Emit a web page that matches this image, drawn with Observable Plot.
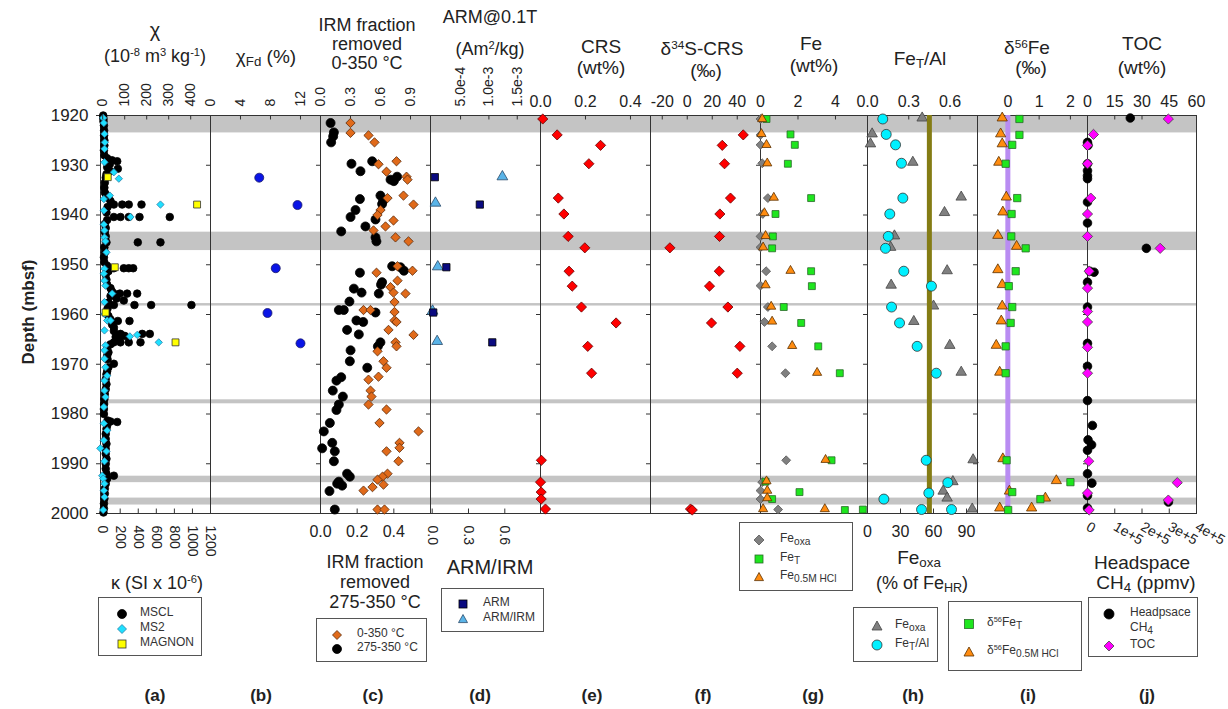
<!DOCTYPE html>
<html><head><meta charset="utf-8">
<script src="https://cdn.jsdelivr.net/npm/d3@7"></script>
<script src="https://cdn.jsdelivr.net/npm/@observablehq/plot@0.6"></script>
<style>
body{margin:0;background:#fff;font-family:"Liberation Sans",Arial,Helvetica,sans-serif;}
#fig{position:relative;width:1228px;height:709px;overflow:hidden;background:#fff;}
#fig > svg{position:absolute;left:0;top:0;}
.t{position:absolute;white-space:nowrap;color:#222;transform:translate(-50%,-50%);text-align:center;line-height:1;}
.t sup,.lg sup{font-size:62%;position:relative;top:-0.55em;vertical-align:baseline;}
.t sub{font-size:70%;position:relative;top:0.2em;vertical-align:baseline;}
.lg sub{font-size:85%;position:relative;top:0.3em;vertical-align:baseline;}
.box{position:absolute;border:1px solid #555;background:#fff;box-sizing:border-box;}
.lg{position:absolute;white-space:nowrap;color:#333;font-size:12px;line-height:1;transform:translateY(-50%);}
.sym{position:absolute;}
</style></head>
<body><div id="fig"></div>
<script>
// ---------------- data ----------------
const depthDomain = [1920, 2000];
const depthTicks = [1920, 1930, 1940, 1950, 1960, 1970, 1980, 1990, 2000];
const grayBands = [[1920, 1923.5], [1943.45, 1947.15], [1957.8, 1958.3], [1977.15, 1977.95], [1992.5, 1993.8], [1996.9, 1998.3]];

// (a) susceptibility  [depth, value]
const chiTicks = [0, 100, 200, 300, 400];
const kappaTicks = [0, 200, 400, 600, 800, 1000, 1200];
const msclKappa = [[1920.0,12],[1920.3,12],[1920.7,15],[1921.2,15],[1922.0,20],[1923.0,22],[1924.0,22],[1925.0,25],[1926.0,25],[1927.0,20],[1928.0,25],
 [1928.6,56],[1929.0,110],[1929.2,167],[1929.8,85],[1930.4,56],[1930.7,174],[1931.2,93],[1931.8,48],[1932.5,40],[1933.5,30],[1934.5,25],[1935.5,30],[1936.0,48],
 [1936.6,70],[1937.2,93],[1937.9,130],[1937.9,222],[1937.9,295],[1937.9,436],[1938.4,60],[1939.5,48],[1940.4,130],[1940.4,203],[1940.4,295],[1940.4,414],[1940.4,749],[1941.0,56],
 [1941.8,30],[1942.6,40],[1943.4,30],[1944.3,40],[1945.5,48],[1945.5,395],[1945.5,646],[1946.5,25],[1947.5,30],[1948.5,20],[1949.5,25],
 [1950.2,56],[1950.7,130],[1950.7,240],[1950.7,295],[1950.7,344],[1951.3,70],[1952.0,40],[1953.0,48],[1954.0,56],[1954.7,93],
 [1955.4,110],[1955.8,130],[1955.8,196],[1955.8,277],[1955.8,388],[1956.3,93],[1956.8,160],[1957.2,240],[1957.6,70],
 [1958.1,130],[1958.1,358],[1958.1,543],[1958.1,989],[1958.8,60],[1959.6,48],[1960.3,70],[1961.0,93],[1961.3,174],[1961.3,303],[1962.0,110],[1962.6,130],
 [1963.3,130],[1963.9,203],[1963.9,444],[1963.9,528],[1964.3,250],[1964.5,150],[1965.0,180],[1965.6,130],[1965.6,203],[1965.6,295],[1965.6,425],[1966.0,93],
 [1966.8,56],[1967.6,70],[1968.3,56],[1969.0,60],[1969.9,130],[1970.6,70],[1971.4,56],[1972.0,48],[1973.0,40],[1974.0,48],[1975.0,40],[1976.0,30],[1977.0,25],[1978.0,22],[1979.0,20],[1980.0,20],
 [1981.3,60],[1981.5,93],[1981.6,167],[1982.3,56],[1983.0,48],[1984.0,40],[1985.0,40],[1986.0,48],[1987.0,40],[1988.0,40],[1989.0,48],[1990.0,40],[1991.0,40],[1992.0,48],[1992.4,130],
 [1993.0,56],[1994.0,40],[1995.0,30],[1996.0,30],[1997.0,25],[1998.0,20],[1999.0,20],[1999.8,15]];
const ms2Kappa = [[1920.5,12],[1921.5,19],[1923.7,26],[1925.4,30],[1926.7,26],[1929.4,26],[1931.4,130],[1932.7,185],[1936.1,85],[1936.8,19],[1937.9,646],[1939.1,19],[1940.4,314],
 [1941.9,19],[1943.1,26],[1944.5,26],[1945.3,37],[1947.5,48],[1950.8,26],[1951.8,19],[1953.2,26],[1954.2,37],[1955.8,112],[1957.5,26],[1959.9,26],[1961.2,56],[1961.2,93],
 [1963.2,26],[1964.4,307],[1964.1,388],[1965.6,627],[1966.2,37],[1967.2,26],[1968.9,26],[1970.6,37],[1972.3,56],[1973.3,26],[1975.3,26],[1976.6,37],[1978.6,19],[1981.9,19],
 [1983.3,56],[1985.3,19],[1986.9,-20],[1987.5,48],[1989.5,26],[1992.4,1],[1993.0,12],[1994.0,26],[1995.4,19],[1996.7,26],[1999.3,12]];
const magnonChi = [[1932.4,23],[1937.9,429],[1950.5,55],[1959.6,13],[1965.6,331]];

// (b)
const chiFdTicks = [0, 4, 8, 12];
const chiFd = [[1932.5,6.5],[1938.0,11.6],[1950.7,8.7],[1959.7,7.6],[1965.8,12.0]];

// (c)
const irmTopTicks = [0, 0.3, 0.6, 0.9];
const irmBotTicks = [0, 0.2, 0.4];
const irm0to350 = [[1921.5,0.30],[1923.5,0.30],[1924.0,0.48],[1925.4,0.54],[1929.2,0.76],[1929.8,0.58],[1931.3,0.66],[1932.3,0.86],[1932.9,0.87],[1936.1,0.83],[1936.6,0.67],[1937.9,0.93],
 [1939.0,0.60],[1940.0,0.57],[1941.1,0.73],[1942.3,0.65],[1943.1,0.53],[1944.5,0.75],[1945.3,0.88],[1950.3,0.77],[1951.2,0.92],[1951.6,0.56],[1953.2,0.77],[1954.5,0.70],[1955.6,0.73],
 [1955.8,0.85],[1957.5,0.74],[1959.1,0.43],[1959.1,0.50],[1959.5,0.74],[1961.2,0.74],[1961.5,0.76],[1963.1,0.68],[1964.1,0.93],[1965.6,0.75],[1966.4,0.76],[1967.4,0.57],[1969.4,0.63],
 [1970.7,0.66],[1972.5,0.58],[1973.1,0.48],[1975.3,0.50],[1976.5,0.51],[1978.1,0.48],[1979.1,0.66],[1981.8,0.59],[1983.5,0.98],[1985.8,0.79],[1986.8,0.79],[1987.5,0.66],[1989.5,0.78],
 [1992.0,0.67],[1992.6,0.62],[1993.2,0.57],[1994.2,0.63],[1994.7,0.52],[1995.4,0.43],[1999.2,0.57],[1999.2,0.64]];
const irm275to350 = [[1921.5,0.055],[1923.4,0.073],[1924.2,0.069],[1925.4,0.058],[1929.2,0.282],[1929.7,0.169],[1931.2,0.218],[1932.3,0.418],[1932.9,0.382],[1933.2,0.40],
 [1936.1,0.327],[1936.8,0.215],[1937.1,0.342],[1937.8,0.336],[1939.0,0.191],[1940.4,0.164],[1940.9,0.300],[1942.3,0.245],[1943.3,0.113],[1944.5,0.300],[1945.3,0.305],
 [1950.3,0.391],[1950.5,0.436],[1951.2,0.455],[1951.6,0.215],[1953.5,0.336],[1954.0,0.330],[1954.8,0.182],[1955.6,0.224],[1955.8,0.318],[1957.4,0.158],[1959.1,0.100],
 [1959.1,0.127],[1959.6,0.300],[1961.2,0.196],[1961.5,0.233],[1963.1,0.145],[1964.0,0.209],[1965.6,0.327],[1966.4,0.313],[1967.2,0.164],[1969.4,0.160],[1970.7,0.255],
 [1972.6,0.113],[1973.3,0.087],[1975.3,0.067],[1976.5,0.122],[1978.1,0.100],[1979.2,0.087],[1981.8,0.051],[1983.5,0.018],[1985.8,0.064],[1986.9,0.009],[1987.5,0.078],
 [1989.5,0.073],[1992.0,0.145],[1992.6,0.160],[1993.6,0.100],[1994.0,0.091],[1994.4,0.118],[1995.5,0.049],[1999.2,0.078]];

// (d)
const armTicks = [5e-4, 1e-3, 1.5e-3];
const armIrmTicks = [0, 0.3, 0.6];
const arm = [[1932.4,4.6e-5],[1937.9,8.4e-4],[1950.5,2.5e-4],[1959.6,1.8e-5],[1965.6,1.06e-3]];
const armIrm = [[1932.3,0.58],[1937.6,0.027],[1950.4,0.046],[1959.3,0.003],[1965.4,0.041]];

// (e)
const crsTicks = [0, 0.2, 0.4];
const crs = [[1920.7,0.010],[1923.9,0.074],[1926.0,0.267],[1929.7,0.215],[1936.6,0.079],[1939.8,0.104],[1944.3,0.123],[1946.6,0.197],[1951.3,0.127],[1954.3,0.141],
 [1958.5,0.182],[1961.7,0.336],[1966.4,0.210],[1971.8,0.227],[1989.3,0.004],[1993.7,0.0],[1995.7,0.003],[1997.1,0.003],[1999.1,0.022]];

// (f)
const d34STicks = [-20, 0, 20, 40];
const d34S = [[1923.9,44.8],[1926.0,28.0],[1929.7,29.8],[1936.6,34.6],[1939.8,26.1],[1944.3,25.8],[1946.6,-13.9],[1951.3,25.6],[1954.3,17.8],[1958.5,32.5],
 [1961.7,19.4],[1966.4,42.1],[1971.8,40.0],[1999.1,2.6],[1999.3,4.0]];

// (g)
const feTicks = [0, 2, 4];
const feOxa = [[1920.7,0.0],[1923.9,0.0],[1925.9,0.0],[1929.6,0.09],[1936.6,0.39],[1939.8,0.12],[1944.3,0.0],[1946.5,0.0],[1951.3,0.30],[1954.2,0.0],[1958.5,0.39],
 [1961.5,0.21],[1966.4,0.62],[1971.8,1.33],[1989.3,1.37],[1993.7,0.09],[1995.4,0.0],[1997.1,0.0],[1999.2,0.94]];
const feT = [[1920.7,0.32],[1923.8,1.60],[1925.9,1.83],[1929.7,1.46],[1936.6,2.70],[1939.8,0.80],[1944.3,0.66],[1946.7,0.62],[1951.3,2.70],[1954.3,2.74],[1958.5,1.24],
 [1961.7,2.17],[1966.4,3.08],[1971.8,4.23],[1989.3,3.79],[1993.6,0.27],[1995.7,2.08],[1997.1,0.62],[1999.3,4.50],[1999.2,5.46]];
const feHCl = [[1920.7,0.09],[1923.7,0.05],[1925.9,0.32],[1929.6,0.36],[1936.5,0.71],[1939.6,0.21],[1944.2,0.27],[1946.5,0.14],[1951.2,1.60],[1954.1,0.27],[1958.4,0.57],
 [1961.4,0.62],[1966.3,1.69],[1971.7,3.02],[1989.2,3.47],[1993.5,0.32],[1995.4,0.36],[1996.9,0.36],[1999.1,0.14],[1999.1,3.43]];

// (h)
const feTAlTicks = [0, 0.3, 0.6];
const feOxaPctTicks = [0, 30, 60, 90];
const shaleFeTAl = 0.45;
const feTAl = [[1920.7,0.111],[1923.8,0.136],[1925.9,0.204],[1929.6,0.247],[1936.6,0.257],[1939.8,0.162],[1944.3,0.151],[1946.7,0.131],[1951.3,0.264],[1954.3,0.465],
 [1958.5,0.175],[1961.7,0.233],[1966.4,0.361],[1971.8,0.500],[1989.3,0.427],[1993.8,0.584],[1995.9,0.446],[1997.1,0.119],[1999.2,0.393],[1999.2,0.611]];
const feOxaPct = [[1920.5,49.7],[1923.7,4.2],[1925.7,2.7],[1929.4,41.2],[1936.4,85.2],[1939.5,70.0],[1944.2,24.5],[1946.5,21.0],[1951.2,72.4],[1954.1,21.5],[1958.3,60.0],
 [1961.4,42.1],[1966.2,74.8],[1971.6,85.2],[1989.2,96.0],[1993.6,77.6],[1995.5,68.8],[1996.9,72.4],[1999.1,95.2]];

// (i)
const d56FeTicks = [0, 1, 2];
const d56FeRef = 0;
const d56FeT = [[1920.7,0.37],[1923.9,0.37],[1925.9,0.14],[1929.7,-0.07],[1936.6,0.30],[1939.8,0.12],[1944.3,0.11],[1946.7,0.57],[1951.3,0.25],[1954.3,0.03],
 [1958.5,0.14],[1961.7,0.09],[1966.4,-0.07],[1971.8,-0.07],[1989.3,-0.04],[1993.7,2.00],[1995.7,0.14],[1997.1,1.04],[1999.3,0.01]];
const d56FeHCl = [[1920.5,-0.18],[1923.7,-0.23],[1925.7,-0.18],[1929.4,-0.29],[1936.4,-0.05],[1939.4,-0.16],[1944.1,-0.32],[1946.3,0.28],[1951.0,-0.32],[1954.0,-0.18],
 [1958.3,-0.18],[1961.3,-0.21],[1966.2,-0.37],[1971.6,-0.26],[1989.0,-0.16],[1993.4,1.55],[1995.5,0.05],[1996.9,1.20],[1998.9,-0.26],[1998.9,0.76]];

// (j)
const tocTicks = [0, 15, 30, 45, 60];
const ch4Ticks = [0, 1e5, 2e5, 3e5, 4e5];
const toc = [[1920.7,44.5],[1923.8,3.3],[1926.0,0],[1929.7,0],[1936.6,1.8],[1939.8,0],[1944.3,0],[1946.7,40.0],[1951.3,0.9],[1954.7,0],[1959.4,0],[1961.5,0],
 [1966.6,0],[1971.8,0],[1989.5,0.7],[1993.8,49.4],[1995.9,0],[1997.3,44.5],[1999.3,0.9]];
const ch4 = [[1920.5,1.57e5],[1925.4,0],[1926.0,2000],[1929.7,0],[1931.1,0],[1932.1,0],[1932.7,0],[1937.4,0],[1941.6,0],[1946.7,2.16e5],[1951.3,8000],[1951.5,2.4e4],
 [1953.5,0],[1958.5,0],[1965.8,0],[1970.4,0],[1977.3,0],[1982.3,1.8e4],[1985.2,2000],[1986.2,1.5e4],[1987.3,0],[1992.0,0],[1993.9,1.6e4],[1996.4,0],[1997.7,2.97e5],[1998.9,0]];

// ---------------- drawing ----------------
const FONT = '"Liberation Sans", Arial, Helvetica, sans-serif';
const W = 1228, H = 709, TOP = 115, BOT = 513;
const fig = document.getElementById("fig");
const INK = "#333";
const f1 = d3.format(".1f");
const fInt = d => String(d);

function layer(x0, x1, domain, marks, withY) {
  const y = {domain: depthDomain, reverse: true};
  if (!withY) y.axis = null;
  fig.appendChild(Plot.plot({
    width: W, height: H,
    marginLeft: x0, marginRight: W - x1, marginTop: TOP, marginBottom: H - BOT,
    x: {domain}, y,
    style: {background: "transparent", overflow: "visible", fontFamily: FONT, color: "#222"},
    marks
  }));
}
function axisTop(ticks, fmt, rot) {
  const o = {anchor: "top", tickSize: 0, tickPadding: 9, tickFormat: fmt, label: null, fontSize: 16};
  if (rot) Object.assign(o, {tickRotate: rot, textAnchor: "start", lineAnchor: "middle", tickPadding: 9, fontSize: 14});
  return [Plot.ruleX(ticks, {y1: 1920, y2: 1920.9, stroke: INK}), Plot.axisX(ticks, o)];
}
function axisBottom(ticks, fmt, rot, extra) {
  const o = {anchor: "bottom", tickSize: 0, tickPadding: 12, tickFormat: fmt, label: null, fontSize: 16};
  if (rot) Object.assign(o, {tickRotate: rot, textAnchor: "start", lineAnchor: "middle", fontSize: 14});
  if (extra) Object.assign(o, extra);
  return [Plot.ruleX(ticks, {y1: 1999.1, y2: 2000, stroke: INK}), Plot.axisX(ticks, o)];
}
function depthAxis(main) {
  return Plot.axisY(depthTicks, main
    ? {anchor: "left", tickSize: 4, tickPadding: 8, fontSize: 17, tickFormat: fInt, label: null, stroke: INK}
    : {anchor: "left", tickSize: 4, tickFormat: () => "", label: null, stroke: INK});
}
const frame = () => Plot.frame({stroke: INK, strokeWidth: 1});
const pt = (data, symbol, r, fill, stroke = "#333") =>
  Plot.dot(data, {x: d => d[1], y: d => d[0], symbol, r, fill, stroke, strokeWidth: 0.8});

// gray bands across all panels
fig.appendChild(Plot.plot({
  width: W, height: H, marginLeft: 100, marginRight: W - 1196, marginTop: TOP, marginBottom: H - BOT,
  y: {domain: depthDomain, reverse: true, axis: null},
  style: {background: "transparent", overflow: "visible"},
  marks: [Plot.rect(grayBands, {y1: d => d[0], y2: d => d[1], fill: "#c4c4c4"})]
}));

// (a)
layer(100, 210, [-18, 1200], [frame(), depthAxis(true), ...axisBottom(kappaTicks, fInt, 90),
  pt(msclKappa, "circle", 3.8, "#000", "#000"), pt(ms2Kappa, "diamond2", 3.3, "#1ee0ff", "#2a7fa8")], true);
layer(100, 210, [-10, 490], [...axisTop(chiTicks, fInt, -90), pt(magnonChi, "square", 3.9, "#ffff00", "#333")]);
// (b)
layer(210, 320, [0, 14.667], [frame(), depthAxis(false), ...axisTop(chiFdTicks, fInt, -90),
  pt(chiFd, "circle", 4.5, "#0a14e6", "#1a1a6a")], true);
// (c)
layer(320, 430, [0, 0.6], [frame(), depthAxis(false), ...axisBottom(irmBotTicks, f1),
  pt(irm275to350, "circle", 4.5, "#000", "#000")], true);
layer(320, 430, [0, 1.1], [...axisTop(irmTopTicks, f1, -90), pt(irm0to350, "diamond2", 4.2, "#e06a1a", "#5a2a0a")]);
// (d)
layer(430, 540, [-0.014, 0.895], [frame(), depthAxis(false), ...axisBottom(armIrmTicks, f1, 90),
  pt(armIrm, "triangle", 4.0, "#5ab4e8", "#2a4a6a")], true);
layer(430, 540, [-0.00003, 0.00191], [...axisTop(armTicks, d => d.toExponential(1), -90), pt(arm, "square", 4.1, "#0a0a80", "#000")]);
// (e)
layer(540, 650, [0, 0.489], [frame(), depthAxis(false), ...axisTop(crsTicks, f1),
  pt(crs, "diamond2", 4.6, "#ff0000", "#600")], true);
// (f)
layer(650, 760, [-29.4, 58.6], [frame(), depthAxis(false), ...axisTop(d34STicks, fInt),
  pt(d34S, "diamond2", 4.6, "#ff0000", "#600")], true);
// (g)
layer(760, 867, [0, 5.707], [frame(), depthAxis(false), ...axisTop(feTicks, fInt),
  pt(feOxa, "diamond2", 4.0, "#808080", "#555"), pt(feT, "square", 3.9, "#1ee61e", "#2a6a2a"), pt(feHCl, "triangle", 3.4, "#ff8c10", "#5a3000")], true);
// (h)
layer(867, 977, [0, 100], [frame(), depthAxis(false), ...axisBottom(feOxaPctTicks, fInt),
  pt(feOxaPct, "triangle", 3.9, "#808080", "#444")], true);
layer(867, 977, [0, 0.8], [...axisTop(feTAlTicks, f1), Plot.ruleX([shaleFeTAl], {stroke: "#847c14", strokeWidth: 5}),
  pt(feTAl, "circle", 5.0, "#00f0ff", "#333")]);
// (i)
layer(977, 1087, [-0.97, 2.546], [frame(), depthAxis(false), ...axisTop(d56FeTicks, fInt),
  Plot.ruleX([d56FeRef], {stroke: "#b98cf2", strokeWidth: 5}),
  pt(d56FeHCl, "triangle", 3.8, "#ff8c10", "#5a3000"), pt(d56FeT, "square", 4.1, "#1ee61e", "#2a6a2a")], true);
// (j)
layer(1087, 1196, [0, 4e5], [frame(), depthAxis(false),
  ...axisBottom(ch4Ticks, d => d === 0 ? "0" : (d / 1e5) + "e+5", 30),
  pt(ch4, "circle", 4.3, "#000", "#000")], true);
layer(1087, 1196, [0, 60], [...axisTop(tocTicks, fInt), pt(toc, "diamond2", 4.6, "#ff00ff", "#444")]);

// ---------------- text ----------------
function txt(html, x, y, size, extra) {
  const d = document.createElement("div");
  d.className = "t"; d.style.left = x + "px"; d.style.top = y + "px"; d.style.fontSize = size + "px";
  d.innerHTML = html; if (extra) d.style.cssText += extra; fig.appendChild(d);
}
txt("χ", 155, 30, 20);
txt("(10<sup>-8</sup> m<sup>3</sup> kg<sup>-1</sup>)", 155, 56, 18);
txt("χ<sub>Fd</sub> (%)", 266, 56, 19);
txt("IRM fraction", 367, 25, 18); txt("removed", 367, 44, 18); txt("0-350 °C", 367, 63, 18);
txt("ARM@0.1T", 490, 17, 18); txt("(Am<sup>2</sup>/kg)", 490, 49, 18);
txt("CRS", 601, 46, 19); txt("(wt%)", 601, 67, 19);
txt("δ<sup>34</sup>S-CRS", 702, 48, 19); txt("(‰)", 706, 70, 19);
txt("Fe", 811, 43, 19); txt("(wt%)", 814, 65, 19);
txt("Fe<sub>T</sub>/Al", 920, 58, 19);
txt("δ<sup>56</sup>Fe", 1027, 47, 19); txt("(‰)", 1031, 67, 19);
txt("TOC", 1142, 43, 19); txt("(wt%)", 1142, 67, 19);

txt("κ (SI x 10<sup>-6</sup>)", 157, 583, 18);
txt("IRM fraction", 375, 562, 18); txt("removed", 375, 582, 18); txt("275-350 °C", 375, 602, 18);
txt("ARM/IRM", 490, 567, 20);
txt("Fe<sub>oxa</sub>", 919, 557, 19); txt("(% of Fe<sub>HR</sub>)", 922, 583, 18);
txt("Headspace", 1142, 562, 19); txt("CH<sub>4</sub> (ppmv)", 1146, 582, 19);

txt("Depth (mbsf)", 28, 312, 17, "font-weight:bold;transform:translate(-50%,-50%) rotate(-90deg);");
const panelLabels = ["(a)", "(b)", "(c)", "(d)", "(e)", "(f)", "(g)", "(h)", "(i)", "(j)"];
const panelLabelX = [155, 261, 373, 480, 592, 703, 813, 913, 1028, 1147];
panelLabels.forEach((s, i) => txt(s, panelLabelX[i], 695, 17, "font-weight:bold;"));

// ---------------- legends ----------------
function symSvg(shape, fill, stroke, size) {
  const s = 12, c = 6, h = size / 2;
  let el;
  if (shape === "circle") el = `<circle cx="${c}" cy="${c}" r="${h}"/>`;
  else if (shape === "square") el = `<rect x="${c - h}" y="${c - h}" width="${size}" height="${size}"/>`;
  else if (shape === "diamond") el = `<polygon points="${c},${c - h} ${c + h},${c} ${c},${c + h} ${c - h},${c}"/>`;
  else el = `<polygon points="${c},${c - h} ${c + h},${c + h * 0.8} ${c - h},${c + h * 0.8}"/>`;
  return `<svg width="${s}" height="${s}"><g fill="${fill}" stroke="${stroke}" stroke-width="0.8">${el}</g></svg>`;
}
function legend(x0, y0, x1, y1, sx, tx, rows) {
  const b = document.createElement("div");
  b.className = "box";
  Object.assign(b.style, {left: x0 + "px", top: y0 + "px", width: (x1 - x0) + "px", height: (y1 - y0) + "px"});
  fig.appendChild(b);
  for (const r of rows) {
    if (r.shape) {
      const s = document.createElement("div");
      s.className = "sym"; s.style.left = (sx - 6) + "px"; s.style.top = (r.sy ?? r.y) - 6 + "px";
      s.innerHTML = symSvg(r.shape, r.fill, r.stroke, r.size || 9);
      fig.appendChild(s);
    }
    const t = document.createElement("div");
    t.className = "lg"; t.style.left = tx + "px"; t.style.top = r.y + "px"; t.innerHTML = r.html;
    fig.appendChild(t);
  }
}
legend(98, 597, 202, 656, 122, 140, [
  {shape: "circle", fill: "#000", stroke: "#000", y: 612, html: "MSCL"},
  {shape: "diamond", fill: "#1ee0ff", stroke: "#2a7fa8", y: 627, html: "MS2"},
  {shape: "square", fill: "#ffff00", stroke: "#333", size: 8, y: 642, html: "MAGNON"}]);
legend(316, 618, 427, 662, 337, 357, [
  {shape: "diamond", fill: "#e06a1a", stroke: "#5a2a0a", y: 633, html: "0-350 °C"},
  {shape: "circle", fill: "#000", stroke: "#000", y: 647, html: "275-350 °C"}]);
legend(441, 588, 544, 632, 463, 483, [
  {shape: "square", fill: "#0a0a80", stroke: "#000", size: 8, y: 602, html: "ARM"},
  {shape: "triangle", fill: "#5ab4e8", stroke: "#2a4a6a", y: 617, html: "ARM/IRM"}]);
legend(739, 522, 853, 591, 759, 780, [
  {shape: "diamond", fill: "#808080", stroke: "#555", size: 10, y: 538, html: "Fe<sub>oxa</sub>"},
  {shape: "square", fill: "#1ee61e", stroke: "#2a6a2a", size: 8, y: 557, html: "Fe<sub>T</sub>"},
  {shape: "triangle", fill: "#ff8c10", stroke: "#5a3000", y: 575, html: "Fe<sub>0.5M HCl</sub>"}]);
legend(853, 607, 938, 662, 877, 895, [
  {shape: "triangle", fill: "#808080", stroke: "#444", size: 10, y: 624, html: "Fe<sub>oxa</sub>"},
  {shape: "circle", fill: "#00f0ff", stroke: "#333", size: 10, y: 643, html: "Fe<sub>T</sub>/Al"}]);
legend(948, 601, 1082, 671, 969, 987, [
  {shape: "square", fill: "#1ee61e", stroke: "#2a6a2a", size: 9, y: 622, html: "δ<sup>56</sup>Fe<sub>T</sub>"},
  {shape: "triangle", fill: "#ff8c10", stroke: "#5a3000", size: 10, y: 650, html: "δ<sup>56</sup>Fe<sub>0.5M HCl</sub>"}]);
legend(1088, 597, 1198, 657, 1109, 1130, [
  {shape: "circle", fill: "#000", stroke: "#000", size: 10, y: 612, html: "Headpsace"},
  {y: 627, html: "CH<sub>4</sub>"},
  {shape: "diamond", fill: "#ff00ff", stroke: "#444", size: 10, y: 644, html: "TOC"}]);
</script></body></html>
